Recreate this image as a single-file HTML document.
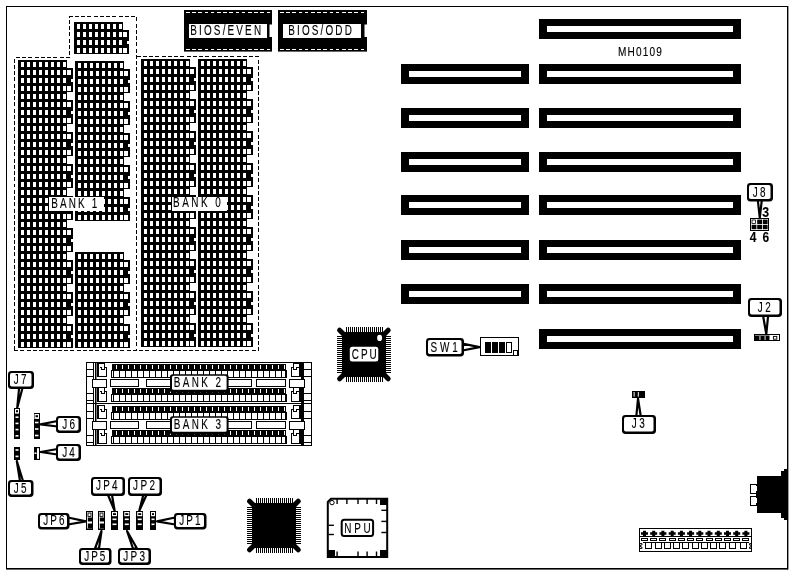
<!DOCTYPE html>
<html><head><meta charset="utf-8"><title>MH0109</title>
<style>
html,body{margin:0;padding:0;background:#fff;}
body{width:793px;height:575px;overflow:hidden;font-family:"Liberation Sans",sans-serif;}
svg{display:block;filter:grayscale(1);}
text{font-family:"Liberation Sans",sans-serif;fill:#000;stroke:#000;stroke-width:0.12px;}
</style></head><body>
<svg width="793" height="575" viewBox="0 0 793 575" shape-rendering="crispEdges">
<defs>
<pattern id="g" x="0" y="0" width="6" height="8" patternUnits="userSpaceOnUse">
<rect x="0" y="0" width="6" height="8" fill="#000"/><rect x="3" y="2" width="3" height="5" fill="#fff"/>
</pattern>
</defs>
<rect x="0" y="0" width="793" height="575" fill="#fff"/>

<rect x="6.5" y="6.5" width="781" height="562" fill="none" stroke="#000" stroke-width="1"/>
<rect x="787" y="6" width="1.4" height="563.5" fill="#000" shape-rendering="auto"/>
<rect x="6" y="568" width="782" height="1.6" fill="#000" shape-rendering="auto"/>
<g fill="none" stroke="#000" stroke-width="1" stroke-dasharray="4 2.25">
<path d="M14.5,350 V57.5 H69.5 V16.5 H136.5 V350.5"/>
<path d="M136.5,56.5 H258.5 V350.5"/>
<path d="M14,350.5 H258.5"/>
</g>
<g transform="translate(74,22)">
<rect x="0" y="0" width="49" height="32" fill="#000"/>
<rect x="0" y="0" width="48" height="32" fill="url(#g)"/>
<rect x="48" y="8" width="7" height="24" fill="#000"/><rect x="49" y="10" width="4" height="5" fill="#fff"/><rect x="49" y="26" width="4" height="5" fill="#fff"/><rect x="53" y="19" width="2" height="3" fill="#fff"/>
</g>
<g transform="translate(18,60)">
<rect x="0" y="0" width="49" height="288" fill="#000"/>
<rect x="0" y="0" width="48" height="288" fill="url(#g)"/>
<rect x="48" y="8" width="7" height="24" fill="#000"/><rect x="49" y="10" width="4" height="5" fill="#fff"/><rect x="49" y="26" width="4" height="5" fill="#fff"/><rect x="53" y="19" width="2" height="3" fill="#fff"/>
<rect x="48" y="40" width="7" height="24" fill="#000"/><rect x="49" y="42" width="4" height="5" fill="#fff"/><rect x="49" y="58" width="4" height="5" fill="#fff"/><rect x="53" y="51" width="2" height="3" fill="#fff"/>
<rect x="48" y="72" width="7" height="24" fill="#000"/><rect x="49" y="74" width="4" height="5" fill="#fff"/><rect x="49" y="90" width="4" height="5" fill="#fff"/><rect x="53" y="83" width="2" height="3" fill="#fff"/>
<rect x="48" y="104" width="7" height="24" fill="#000"/><rect x="49" y="106" width="4" height="5" fill="#fff"/><rect x="49" y="122" width="4" height="5" fill="#fff"/><rect x="53" y="115" width="2" height="3" fill="#fff"/>
<rect x="48" y="136" width="7" height="24" fill="#000"/><rect x="49" y="138" width="4" height="5" fill="#fff"/><rect x="49" y="154" width="4" height="5" fill="#fff"/><rect x="53" y="147" width="2" height="3" fill="#fff"/>
<rect x="48" y="168" width="7" height="24" fill="#000"/><rect x="49" y="170" width="4" height="5" fill="#fff"/><rect x="49" y="186" width="4" height="5" fill="#fff"/><rect x="53" y="179" width="2" height="3" fill="#fff"/>
<rect x="48" y="200" width="7" height="24" fill="#000"/><rect x="49" y="202" width="4" height="5" fill="#fff"/><rect x="49" y="218" width="4" height="5" fill="#fff"/><rect x="53" y="211" width="2" height="3" fill="#fff"/>
<rect x="48" y="232" width="7" height="24" fill="#000"/><rect x="49" y="234" width="4" height="5" fill="#fff"/><rect x="49" y="250" width="4" height="5" fill="#fff"/><rect x="53" y="243" width="2" height="3" fill="#fff"/>
<rect x="48" y="264" width="7" height="24" fill="#000"/><rect x="49" y="266" width="4" height="5" fill="#fff"/><rect x="49" y="282" width="4" height="5" fill="#fff"/><rect x="53" y="275" width="2" height="3" fill="#fff"/>
</g>
<g transform="translate(75,61)">
<rect x="0" y="0" width="49" height="160" fill="#000"/>
<rect x="0" y="0" width="48" height="160" fill="url(#g)"/>
<rect x="48" y="8" width="7" height="24" fill="#000"/><rect x="49" y="10" width="4" height="5" fill="#fff"/><rect x="49" y="26" width="4" height="5" fill="#fff"/><rect x="53" y="19" width="2" height="3" fill="#fff"/>
<rect x="48" y="40" width="7" height="24" fill="#000"/><rect x="49" y="42" width="4" height="5" fill="#fff"/><rect x="49" y="58" width="4" height="5" fill="#fff"/><rect x="53" y="51" width="2" height="3" fill="#fff"/>
<rect x="48" y="72" width="7" height="24" fill="#000"/><rect x="49" y="74" width="4" height="5" fill="#fff"/><rect x="49" y="90" width="4" height="5" fill="#fff"/><rect x="53" y="83" width="2" height="3" fill="#fff"/>
<rect x="48" y="104" width="7" height="24" fill="#000"/><rect x="49" y="106" width="4" height="5" fill="#fff"/><rect x="49" y="122" width="4" height="5" fill="#fff"/><rect x="53" y="115" width="2" height="3" fill="#fff"/>
<rect x="48" y="136" width="7" height="24" fill="#000"/><rect x="49" y="138" width="4" height="5" fill="#fff"/><rect x="49" y="154" width="4" height="5" fill="#fff"/><rect x="53" y="147" width="2" height="3" fill="#fff"/>
</g>
<g transform="translate(75,252)">
<rect x="0" y="0" width="49" height="96" fill="#000"/>
<rect x="0" y="0" width="48" height="96" fill="url(#g)"/>
<rect x="48" y="8" width="7" height="24" fill="#000"/><rect x="49" y="10" width="4" height="5" fill="#fff"/><rect x="49" y="26" width="4" height="5" fill="#fff"/><rect x="53" y="19" width="2" height="3" fill="#fff"/>
<rect x="48" y="40" width="7" height="24" fill="#000"/><rect x="49" y="42" width="4" height="5" fill="#fff"/><rect x="49" y="58" width="4" height="5" fill="#fff"/><rect x="53" y="51" width="2" height="3" fill="#fff"/>
<rect x="48" y="72" width="7" height="24" fill="#000"/><rect x="49" y="74" width="4" height="5" fill="#fff"/><rect x="49" y="90" width="4" height="5" fill="#fff"/><rect x="53" y="83" width="2" height="3" fill="#fff"/>
</g>
<g transform="translate(141,59)">
<rect x="0" y="0" width="49" height="288" fill="#000"/>
<rect x="0" y="0" width="48" height="288" fill="url(#g)"/>
<rect x="48" y="8" width="7" height="24" fill="#000"/><rect x="49" y="10" width="4" height="5" fill="#fff"/><rect x="49" y="26" width="4" height="5" fill="#fff"/><rect x="53" y="19" width="2" height="3" fill="#fff"/>
<rect x="48" y="40" width="7" height="24" fill="#000"/><rect x="49" y="42" width="4" height="5" fill="#fff"/><rect x="49" y="58" width="4" height="5" fill="#fff"/><rect x="53" y="51" width="2" height="3" fill="#fff"/>
<rect x="48" y="72" width="7" height="24" fill="#000"/><rect x="49" y="74" width="4" height="5" fill="#fff"/><rect x="49" y="90" width="4" height="5" fill="#fff"/><rect x="53" y="83" width="2" height="3" fill="#fff"/>
<rect x="48" y="104" width="7" height="24" fill="#000"/><rect x="49" y="106" width="4" height="5" fill="#fff"/><rect x="49" y="122" width="4" height="5" fill="#fff"/><rect x="53" y="115" width="2" height="3" fill="#fff"/>
<rect x="48" y="136" width="7" height="24" fill="#000"/><rect x="49" y="138" width="4" height="5" fill="#fff"/><rect x="49" y="154" width="4" height="5" fill="#fff"/><rect x="53" y="147" width="2" height="3" fill="#fff"/>
<rect x="48" y="168" width="7" height="24" fill="#000"/><rect x="49" y="170" width="4" height="5" fill="#fff"/><rect x="49" y="186" width="4" height="5" fill="#fff"/><rect x="53" y="179" width="2" height="3" fill="#fff"/>
<rect x="48" y="200" width="7" height="24" fill="#000"/><rect x="49" y="202" width="4" height="5" fill="#fff"/><rect x="49" y="218" width="4" height="5" fill="#fff"/><rect x="53" y="211" width="2" height="3" fill="#fff"/>
<rect x="48" y="232" width="7" height="24" fill="#000"/><rect x="49" y="234" width="4" height="5" fill="#fff"/><rect x="49" y="250" width="4" height="5" fill="#fff"/><rect x="53" y="243" width="2" height="3" fill="#fff"/>
<rect x="48" y="264" width="7" height="24" fill="#000"/><rect x="49" y="266" width="4" height="5" fill="#fff"/><rect x="49" y="282" width="4" height="5" fill="#fff"/><rect x="53" y="275" width="2" height="3" fill="#fff"/>
</g>
<g transform="translate(198,59)">
<rect x="0" y="0" width="49" height="288" fill="#000"/>
<rect x="0" y="0" width="48" height="288" fill="url(#g)"/>
<rect x="48" y="8" width="7" height="24" fill="#000"/><rect x="49" y="10" width="4" height="5" fill="#fff"/><rect x="49" y="26" width="4" height="5" fill="#fff"/><rect x="53" y="19" width="2" height="3" fill="#fff"/>
<rect x="48" y="40" width="7" height="24" fill="#000"/><rect x="49" y="42" width="4" height="5" fill="#fff"/><rect x="49" y="58" width="4" height="5" fill="#fff"/><rect x="53" y="51" width="2" height="3" fill="#fff"/>
<rect x="48" y="72" width="7" height="24" fill="#000"/><rect x="49" y="74" width="4" height="5" fill="#fff"/><rect x="49" y="90" width="4" height="5" fill="#fff"/><rect x="53" y="83" width="2" height="3" fill="#fff"/>
<rect x="48" y="104" width="7" height="24" fill="#000"/><rect x="49" y="106" width="4" height="5" fill="#fff"/><rect x="49" y="122" width="4" height="5" fill="#fff"/><rect x="53" y="115" width="2" height="3" fill="#fff"/>
<rect x="48" y="136" width="7" height="24" fill="#000"/><rect x="49" y="138" width="4" height="5" fill="#fff"/><rect x="49" y="154" width="4" height="5" fill="#fff"/><rect x="53" y="147" width="2" height="3" fill="#fff"/>
<rect x="48" y="168" width="7" height="24" fill="#000"/><rect x="49" y="170" width="4" height="5" fill="#fff"/><rect x="49" y="186" width="4" height="5" fill="#fff"/><rect x="53" y="179" width="2" height="3" fill="#fff"/>
<rect x="48" y="200" width="7" height="24" fill="#000"/><rect x="49" y="202" width="4" height="5" fill="#fff"/><rect x="49" y="218" width="4" height="5" fill="#fff"/><rect x="53" y="211" width="2" height="3" fill="#fff"/>
<rect x="48" y="232" width="7" height="24" fill="#000"/><rect x="49" y="234" width="4" height="5" fill="#fff"/><rect x="49" y="250" width="4" height="5" fill="#fff"/><rect x="53" y="243" width="2" height="3" fill="#fff"/>
<rect x="48" y="264" width="7" height="24" fill="#000"/><rect x="49" y="266" width="4" height="5" fill="#fff"/><rect x="49" y="282" width="4" height="5" fill="#fff"/><rect x="53" y="275" width="2" height="3" fill="#fff"/>
</g>
<rect x="49" y="197" width="55" height="14" fill="#fff" />
<text transform="translate(51.31,207.7) scale(0.72,1)" font-size="13.8" letter-spacing="2.96" >BANK 1</text>
<rect x="172" y="197" width="55" height="14" fill="#fff" />
<text transform="translate(173.11,207.2) scale(0.72,1)" font-size="13.8" letter-spacing="3.46" >BANK 0</text>
<rect x="184" y="10" width="88" height="41.6" fill="#000" shape-rendering="auto"/>
<path d="M186,12.5 H270 M186,49.5 H270" stroke="#fff" stroke-width="1" stroke-dasharray="3.6 2.6" fill="none"/>
<rect x="189" y="24" width="78" height="14" fill="#fff" />
<rect x="269.5" y="24.5" width="2.5" height="12.5" fill="#fff" shape-rendering="auto"/>
<text transform="translate(190.31,34.9) scale(0.72,1)" font-size="13.8" letter-spacing="2.99" >BIOS/EVEN</text>
<rect x="278" y="10" width="89" height="41.6" fill="#000" shape-rendering="auto"/>
<path d="M280,12.5 H365 M280,49.5 H365" stroke="#fff" stroke-width="1" stroke-dasharray="3.6 2.6" fill="none"/>
<rect x="283" y="24" width="78" height="14" fill="#fff" />
<rect x="364.5" y="24.5" width="2.5" height="12.5" fill="#fff" shape-rendering="auto"/>
<text transform="translate(288.21,34.9) scale(0.72,1)" font-size="13.8" letter-spacing="2.99" >BIOS/ODD</text>
<rect x="401" y="64" width="128" height="20" fill="#000" />
<rect x="409" y="71" width="112" height="6" fill="#fff" />
<rect x="401" y="108" width="128" height="20" fill="#000" />
<rect x="409" y="115" width="112" height="6" fill="#fff" />
<rect x="401" y="152" width="128" height="20" fill="#000" />
<rect x="409" y="159" width="112" height="6" fill="#fff" />
<rect x="401" y="195" width="128" height="20" fill="#000" />
<rect x="409" y="202" width="112" height="6" fill="#fff" />
<rect x="401" y="240" width="128" height="20" fill="#000" />
<rect x="409" y="247" width="112" height="6" fill="#fff" />
<rect x="401" y="284" width="128" height="20" fill="#000" />
<rect x="409" y="291" width="112" height="6" fill="#fff" />
<rect x="539" y="19" width="202" height="20" fill="#000" />
<rect x="547" y="26" width="186" height="6" fill="#fff" />
<rect x="539" y="64" width="202" height="20" fill="#000" />
<rect x="547" y="71" width="186" height="6" fill="#fff" />
<rect x="539" y="108" width="202" height="20" fill="#000" />
<rect x="547" y="115" width="186" height="6" fill="#fff" />
<rect x="539" y="152" width="202" height="20" fill="#000" />
<rect x="547" y="159" width="186" height="6" fill="#fff" />
<rect x="539" y="195" width="202" height="20" fill="#000" />
<rect x="547" y="202" width="186" height="6" fill="#fff" />
<rect x="539" y="240" width="202" height="20" fill="#000" />
<rect x="547" y="247" width="186" height="6" fill="#fff" />
<rect x="539" y="284" width="202" height="20" fill="#000" />
<rect x="547" y="291" width="186" height="6" fill="#fff" />
<rect x="539" y="329" width="202" height="20" fill="#000" />
<rect x="547" y="336" width="186" height="6" fill="#fff" />
<text transform="translate(617.89,55.9) scale(0.8,1)" font-size="12.6" letter-spacing="1.49" >MH0109</text>
<rect x="86.5" y="362.5" width="225" height="83" fill="#fff" stroke="#000"/>
<rect x="86" y="403" width="226" height="1" fill="#000" />
<rect x="86" y="369" width="7" height="1" fill="#000" />
<rect x="304" y="369" width="8" height="1" fill="#000" />
<rect x="86" y="376" width="7" height="1" fill="#000" />
<rect x="304" y="376" width="8" height="1" fill="#000" />
<rect x="86" y="393" width="7" height="1" fill="#000" />
<rect x="304" y="393" width="8" height="1" fill="#000" />
<rect x="86" y="400" width="7" height="1" fill="#000" />
<rect x="304" y="400" width="8" height="1" fill="#000" />
<rect x="93" y="362" width="1" height="42" fill="#000" />
<rect x="95" y="362" width="1.5" height="42" fill="#000" shape-rendering="auto"/>
<rect x="301" y="362" width="3" height="42" fill="#000" />
<path d="M98,363.5 H104.5 V367.5 H106.5 V376.5 H98 Z M99.5,367.5 H101.5 V369.5 H104.5 V367.5" fill="#fff" stroke="#000" stroke-width="1"/>
<rect x="97" y="363" width="2" height="14" fill="#000" />
<path d="M98,387.5 H104.5 V391.5 H106.5 V401.5 H98 Z M99.5,391.5 H101.5 V393.5 H104.5 V391.5" fill="#fff" stroke="#000" stroke-width="1"/>
<rect x="97" y="387" width="2" height="15" fill="#000" />
<path d="M300,363.5 H293.5 V367.5 H291.5 V376.5 H300 Z M298.5,367.5 H296.5 V369.5 H293.5 V367.5" fill="#fff" stroke="#000" stroke-width="1"/>
<path d="M300,387.5 H293.5 V391.5 H291.5 V401.5 H300 Z M298.5,391.5 H296.5 V393.5 H293.5 V391.5" fill="#fff" stroke="#000" stroke-width="1"/>
<rect x="299" y="363" width="2" height="14" fill="#000" />
<rect x="299" y="387" width="2" height="15" fill="#000" />
<rect x="92.5" y="379.5" width="14" height="8" fill="#fff" stroke="#000"/>
<rect x="289.5" y="379.5" width="15" height="8" fill="#fff" stroke="#000"/>
<rect x="112" y="364" width="174" height="7" fill="#000" />
<rect x="111" y="370" width="176" height="8" fill="#000" />
<rect x="116" y="365" width="1" height="4" fill="#fff" />
<rect x="114" y="371" width="5" height="6" fill="#fff" />
<rect x="122" y="365" width="1" height="4" fill="#fff" />
<rect x="120" y="371" width="5" height="6" fill="#fff" />
<rect x="128" y="365" width="1" height="4" fill="#fff" />
<rect x="126" y="371" width="5" height="6" fill="#fff" />
<rect x="134" y="365" width="1" height="4" fill="#fff" />
<rect x="132" y="371" width="5" height="6" fill="#fff" />
<rect x="140" y="365" width="1" height="4" fill="#fff" />
<rect x="138" y="371" width="5" height="6" fill="#fff" />
<rect x="146" y="365" width="1" height="4" fill="#fff" />
<rect x="144" y="371" width="5" height="6" fill="#fff" />
<rect x="152" y="365" width="1" height="4" fill="#fff" />
<rect x="150" y="371" width="5" height="6" fill="#fff" />
<rect x="158" y="365" width="1" height="4" fill="#fff" />
<rect x="156" y="371" width="5" height="6" fill="#fff" />
<rect x="164" y="365" width="1" height="4" fill="#fff" />
<rect x="162" y="371" width="5" height="6" fill="#fff" />
<rect x="170" y="365" width="1" height="4" fill="#fff" />
<rect x="168" y="371" width="5" height="6" fill="#fff" />
<rect x="176" y="365" width="1" height="4" fill="#fff" />
<rect x="174" y="371" width="5" height="6" fill="#fff" />
<rect x="182" y="365" width="1" height="4" fill="#fff" />
<rect x="180" y="371" width="5" height="6" fill="#fff" />
<rect x="188" y="365" width="1" height="4" fill="#fff" />
<rect x="186" y="371" width="5" height="6" fill="#fff" />
<rect x="194" y="365" width="1" height="4" fill="#fff" />
<rect x="192" y="371" width="5" height="6" fill="#fff" />
<rect x="200" y="365" width="1" height="4" fill="#fff" />
<rect x="198" y="371" width="5" height="6" fill="#fff" />
<rect x="206" y="365" width="1" height="4" fill="#fff" />
<rect x="204" y="371" width="5" height="6" fill="#fff" />
<rect x="212" y="365" width="1" height="4" fill="#fff" />
<rect x="210" y="371" width="5" height="6" fill="#fff" />
<rect x="218" y="365" width="1" height="4" fill="#fff" />
<rect x="216" y="371" width="5" height="6" fill="#fff" />
<rect x="224" y="365" width="1" height="4" fill="#fff" />
<rect x="222" y="371" width="5" height="6" fill="#fff" />
<rect x="230" y="365" width="1" height="4" fill="#fff" />
<rect x="228" y="371" width="5" height="6" fill="#fff" />
<rect x="236" y="365" width="1" height="4" fill="#fff" />
<rect x="234" y="371" width="5" height="6" fill="#fff" />
<rect x="242" y="365" width="1" height="4" fill="#fff" />
<rect x="240" y="371" width="5" height="6" fill="#fff" />
<rect x="248" y="365" width="1" height="4" fill="#fff" />
<rect x="246" y="371" width="5" height="6" fill="#fff" />
<rect x="254" y="365" width="1" height="4" fill="#fff" />
<rect x="252" y="371" width="5" height="6" fill="#fff" />
<rect x="260" y="365" width="1" height="4" fill="#fff" />
<rect x="258" y="371" width="5" height="6" fill="#fff" />
<rect x="266" y="365" width="1" height="4" fill="#fff" />
<rect x="264" y="371" width="5" height="6" fill="#fff" />
<rect x="272" y="365" width="1" height="4" fill="#fff" />
<rect x="270" y="371" width="5" height="6" fill="#fff" />
<rect x="278" y="365" width="1" height="4" fill="#fff" />
<rect x="276" y="371" width="5" height="6" fill="#fff" />
<rect x="284" y="365" width="1" height="4" fill="#fff" />
<rect x="112" y="371" width="1" height="6" fill="#fff" />
<rect x="282" y="371" width="3" height="6" fill="#fff" />
<rect x="286" y="364" width="1" height="6" fill="#fff" />
<rect x="112" y="388" width="174" height="7" fill="#000" />
<rect x="111" y="394" width="176" height="8" fill="#000" />
<rect x="116" y="389" width="1" height="4" fill="#fff" />
<rect x="114" y="395" width="5" height="6" fill="#fff" />
<rect x="122" y="389" width="1" height="4" fill="#fff" />
<rect x="120" y="395" width="5" height="6" fill="#fff" />
<rect x="128" y="389" width="1" height="4" fill="#fff" />
<rect x="126" y="395" width="5" height="6" fill="#fff" />
<rect x="134" y="389" width="1" height="4" fill="#fff" />
<rect x="132" y="395" width="5" height="6" fill="#fff" />
<rect x="140" y="389" width="1" height="4" fill="#fff" />
<rect x="138" y="395" width="5" height="6" fill="#fff" />
<rect x="146" y="389" width="1" height="4" fill="#fff" />
<rect x="144" y="395" width="5" height="6" fill="#fff" />
<rect x="152" y="389" width="1" height="4" fill="#fff" />
<rect x="150" y="395" width="5" height="6" fill="#fff" />
<rect x="158" y="389" width="1" height="4" fill="#fff" />
<rect x="156" y="395" width="5" height="6" fill="#fff" />
<rect x="164" y="389" width="1" height="4" fill="#fff" />
<rect x="162" y="395" width="5" height="6" fill="#fff" />
<rect x="170" y="389" width="1" height="4" fill="#fff" />
<rect x="168" y="395" width="5" height="6" fill="#fff" />
<rect x="176" y="389" width="1" height="4" fill="#fff" />
<rect x="174" y="395" width="5" height="6" fill="#fff" />
<rect x="182" y="389" width="1" height="4" fill="#fff" />
<rect x="180" y="395" width="5" height="6" fill="#fff" />
<rect x="188" y="389" width="1" height="4" fill="#fff" />
<rect x="186" y="395" width="5" height="6" fill="#fff" />
<rect x="194" y="389" width="1" height="4" fill="#fff" />
<rect x="192" y="395" width="5" height="6" fill="#fff" />
<rect x="200" y="389" width="1" height="4" fill="#fff" />
<rect x="198" y="395" width="5" height="6" fill="#fff" />
<rect x="206" y="389" width="1" height="4" fill="#fff" />
<rect x="204" y="395" width="5" height="6" fill="#fff" />
<rect x="212" y="389" width="1" height="4" fill="#fff" />
<rect x="210" y="395" width="5" height="6" fill="#fff" />
<rect x="218" y="389" width="1" height="4" fill="#fff" />
<rect x="216" y="395" width="5" height="6" fill="#fff" />
<rect x="224" y="389" width="1" height="4" fill="#fff" />
<rect x="222" y="395" width="5" height="6" fill="#fff" />
<rect x="230" y="389" width="1" height="4" fill="#fff" />
<rect x="228" y="395" width="5" height="6" fill="#fff" />
<rect x="236" y="389" width="1" height="4" fill="#fff" />
<rect x="234" y="395" width="5" height="6" fill="#fff" />
<rect x="242" y="389" width="1" height="4" fill="#fff" />
<rect x="240" y="395" width="5" height="6" fill="#fff" />
<rect x="248" y="389" width="1" height="4" fill="#fff" />
<rect x="246" y="395" width="5" height="6" fill="#fff" />
<rect x="254" y="389" width="1" height="4" fill="#fff" />
<rect x="252" y="395" width="5" height="6" fill="#fff" />
<rect x="260" y="389" width="1" height="4" fill="#fff" />
<rect x="258" y="395" width="5" height="6" fill="#fff" />
<rect x="266" y="389" width="1" height="4" fill="#fff" />
<rect x="264" y="395" width="5" height="6" fill="#fff" />
<rect x="272" y="389" width="1" height="4" fill="#fff" />
<rect x="270" y="395" width="5" height="6" fill="#fff" />
<rect x="278" y="389" width="1" height="4" fill="#fff" />
<rect x="276" y="395" width="5" height="6" fill="#fff" />
<rect x="284" y="389" width="1" height="4" fill="#fff" />
<rect x="112" y="395" width="1" height="6" fill="#fff" />
<rect x="282" y="395" width="3" height="6" fill="#fff" />
<rect x="286" y="388" width="1" height="6" fill="#fff" />
<rect x="110.5" y="379.5" width="28" height="7" rx="1" fill="#fff" stroke="#000"/>
<rect x="146.5" y="379.5" width="52" height="7" rx="1" fill="#fff" stroke="#000"/>
<rect x="200.5" y="379.5" width="51" height="7" rx="1" fill="#fff" stroke="#000"/>
<rect x="256.5" y="379.5" width="29" height="7" rx="1" fill="#fff" stroke="#000"/>
<rect x="141" y="378" width="3" height="2" fill="#fff" />
<rect x="253" y="378" width="1" height="2" fill="#fff" />
<rect x="86" y="411" width="7" height="1" fill="#000" />
<rect x="304" y="411" width="8" height="1" fill="#000" />
<rect x="86" y="418" width="7" height="1" fill="#000" />
<rect x="304" y="418" width="8" height="1" fill="#000" />
<rect x="86" y="435" width="7" height="1" fill="#000" />
<rect x="304" y="435" width="8" height="1" fill="#000" />
<rect x="86" y="442" width="7" height="1" fill="#000" />
<rect x="304" y="442" width="8" height="1" fill="#000" />
<rect x="93" y="404" width="1" height="42" fill="#000" />
<rect x="95" y="404" width="1.5" height="42" fill="#000" shape-rendering="auto"/>
<rect x="301" y="404" width="3" height="42" fill="#000" />
<path d="M98,405.5 H104.5 V409.5 H106.5 V418.5 H98 Z M99.5,409.5 H101.5 V411.5 H104.5 V409.5" fill="#fff" stroke="#000" stroke-width="1"/>
<rect x="97" y="405" width="2" height="14" fill="#000" />
<path d="M98,429.5 H104.5 V433.5 H106.5 V443.5 H98 Z M99.5,433.5 H101.5 V435.5 H104.5 V433.5" fill="#fff" stroke="#000" stroke-width="1"/>
<rect x="97" y="429" width="2" height="15" fill="#000" />
<path d="M300,405.5 H293.5 V409.5 H291.5 V418.5 H300 Z M298.5,409.5 H296.5 V411.5 H293.5 V409.5" fill="#fff" stroke="#000" stroke-width="1"/>
<path d="M300,429.5 H293.5 V433.5 H291.5 V443.5 H300 Z M298.5,433.5 H296.5 V435.5 H293.5 V433.5" fill="#fff" stroke="#000" stroke-width="1"/>
<rect x="299" y="405" width="2" height="14" fill="#000" />
<rect x="299" y="429" width="2" height="15" fill="#000" />
<rect x="92.5" y="421.5" width="14" height="8" fill="#fff" stroke="#000"/>
<rect x="289.5" y="421.5" width="15" height="8" fill="#fff" stroke="#000"/>
<rect x="112" y="406" width="174" height="7" fill="#000" />
<rect x="111" y="412" width="176" height="8" fill="#000" />
<rect x="116" y="407" width="1" height="4" fill="#fff" />
<rect x="114" y="413" width="5" height="6" fill="#fff" />
<rect x="122" y="407" width="1" height="4" fill="#fff" />
<rect x="120" y="413" width="5" height="6" fill="#fff" />
<rect x="128" y="407" width="1" height="4" fill="#fff" />
<rect x="126" y="413" width="5" height="6" fill="#fff" />
<rect x="134" y="407" width="1" height="4" fill="#fff" />
<rect x="132" y="413" width="5" height="6" fill="#fff" />
<rect x="140" y="407" width="1" height="4" fill="#fff" />
<rect x="138" y="413" width="5" height="6" fill="#fff" />
<rect x="146" y="407" width="1" height="4" fill="#fff" />
<rect x="144" y="413" width="5" height="6" fill="#fff" />
<rect x="152" y="407" width="1" height="4" fill="#fff" />
<rect x="150" y="413" width="5" height="6" fill="#fff" />
<rect x="158" y="407" width="1" height="4" fill="#fff" />
<rect x="156" y="413" width="5" height="6" fill="#fff" />
<rect x="164" y="407" width="1" height="4" fill="#fff" />
<rect x="162" y="413" width="5" height="6" fill="#fff" />
<rect x="170" y="407" width="1" height="4" fill="#fff" />
<rect x="168" y="413" width="5" height="6" fill="#fff" />
<rect x="176" y="407" width="1" height="4" fill="#fff" />
<rect x="174" y="413" width="5" height="6" fill="#fff" />
<rect x="182" y="407" width="1" height="4" fill="#fff" />
<rect x="180" y="413" width="5" height="6" fill="#fff" />
<rect x="188" y="407" width="1" height="4" fill="#fff" />
<rect x="186" y="413" width="5" height="6" fill="#fff" />
<rect x="194" y="407" width="1" height="4" fill="#fff" />
<rect x="192" y="413" width="5" height="6" fill="#fff" />
<rect x="200" y="407" width="1" height="4" fill="#fff" />
<rect x="198" y="413" width="5" height="6" fill="#fff" />
<rect x="206" y="407" width="1" height="4" fill="#fff" />
<rect x="204" y="413" width="5" height="6" fill="#fff" />
<rect x="212" y="407" width="1" height="4" fill="#fff" />
<rect x="210" y="413" width="5" height="6" fill="#fff" />
<rect x="218" y="407" width="1" height="4" fill="#fff" />
<rect x="216" y="413" width="5" height="6" fill="#fff" />
<rect x="224" y="407" width="1" height="4" fill="#fff" />
<rect x="222" y="413" width="5" height="6" fill="#fff" />
<rect x="230" y="407" width="1" height="4" fill="#fff" />
<rect x="228" y="413" width="5" height="6" fill="#fff" />
<rect x="236" y="407" width="1" height="4" fill="#fff" />
<rect x="234" y="413" width="5" height="6" fill="#fff" />
<rect x="242" y="407" width="1" height="4" fill="#fff" />
<rect x="240" y="413" width="5" height="6" fill="#fff" />
<rect x="248" y="407" width="1" height="4" fill="#fff" />
<rect x="246" y="413" width="5" height="6" fill="#fff" />
<rect x="254" y="407" width="1" height="4" fill="#fff" />
<rect x="252" y="413" width="5" height="6" fill="#fff" />
<rect x="260" y="407" width="1" height="4" fill="#fff" />
<rect x="258" y="413" width="5" height="6" fill="#fff" />
<rect x="266" y="407" width="1" height="4" fill="#fff" />
<rect x="264" y="413" width="5" height="6" fill="#fff" />
<rect x="272" y="407" width="1" height="4" fill="#fff" />
<rect x="270" y="413" width="5" height="6" fill="#fff" />
<rect x="278" y="407" width="1" height="4" fill="#fff" />
<rect x="276" y="413" width="5" height="6" fill="#fff" />
<rect x="284" y="407" width="1" height="4" fill="#fff" />
<rect x="112" y="413" width="1" height="6" fill="#fff" />
<rect x="282" y="413" width="3" height="6" fill="#fff" />
<rect x="286" y="406" width="1" height="6" fill="#fff" />
<rect x="112" y="430" width="174" height="7" fill="#000" />
<rect x="111" y="436" width="176" height="8" fill="#000" />
<rect x="116" y="431" width="1" height="4" fill="#fff" />
<rect x="114" y="437" width="5" height="6" fill="#fff" />
<rect x="122" y="431" width="1" height="4" fill="#fff" />
<rect x="120" y="437" width="5" height="6" fill="#fff" />
<rect x="128" y="431" width="1" height="4" fill="#fff" />
<rect x="126" y="437" width="5" height="6" fill="#fff" />
<rect x="134" y="431" width="1" height="4" fill="#fff" />
<rect x="132" y="437" width="5" height="6" fill="#fff" />
<rect x="140" y="431" width="1" height="4" fill="#fff" />
<rect x="138" y="437" width="5" height="6" fill="#fff" />
<rect x="146" y="431" width="1" height="4" fill="#fff" />
<rect x="144" y="437" width="5" height="6" fill="#fff" />
<rect x="152" y="431" width="1" height="4" fill="#fff" />
<rect x="150" y="437" width="5" height="6" fill="#fff" />
<rect x="158" y="431" width="1" height="4" fill="#fff" />
<rect x="156" y="437" width="5" height="6" fill="#fff" />
<rect x="164" y="431" width="1" height="4" fill="#fff" />
<rect x="162" y="437" width="5" height="6" fill="#fff" />
<rect x="170" y="431" width="1" height="4" fill="#fff" />
<rect x="168" y="437" width="5" height="6" fill="#fff" />
<rect x="176" y="431" width="1" height="4" fill="#fff" />
<rect x="174" y="437" width="5" height="6" fill="#fff" />
<rect x="182" y="431" width="1" height="4" fill="#fff" />
<rect x="180" y="437" width="5" height="6" fill="#fff" />
<rect x="188" y="431" width="1" height="4" fill="#fff" />
<rect x="186" y="437" width="5" height="6" fill="#fff" />
<rect x="194" y="431" width="1" height="4" fill="#fff" />
<rect x="192" y="437" width="5" height="6" fill="#fff" />
<rect x="200" y="431" width="1" height="4" fill="#fff" />
<rect x="198" y="437" width="5" height="6" fill="#fff" />
<rect x="206" y="431" width="1" height="4" fill="#fff" />
<rect x="204" y="437" width="5" height="6" fill="#fff" />
<rect x="212" y="431" width="1" height="4" fill="#fff" />
<rect x="210" y="437" width="5" height="6" fill="#fff" />
<rect x="218" y="431" width="1" height="4" fill="#fff" />
<rect x="216" y="437" width="5" height="6" fill="#fff" />
<rect x="224" y="431" width="1" height="4" fill="#fff" />
<rect x="222" y="437" width="5" height="6" fill="#fff" />
<rect x="230" y="431" width="1" height="4" fill="#fff" />
<rect x="228" y="437" width="5" height="6" fill="#fff" />
<rect x="236" y="431" width="1" height="4" fill="#fff" />
<rect x="234" y="437" width="5" height="6" fill="#fff" />
<rect x="242" y="431" width="1" height="4" fill="#fff" />
<rect x="240" y="437" width="5" height="6" fill="#fff" />
<rect x="248" y="431" width="1" height="4" fill="#fff" />
<rect x="246" y="437" width="5" height="6" fill="#fff" />
<rect x="254" y="431" width="1" height="4" fill="#fff" />
<rect x="252" y="437" width="5" height="6" fill="#fff" />
<rect x="260" y="431" width="1" height="4" fill="#fff" />
<rect x="258" y="437" width="5" height="6" fill="#fff" />
<rect x="266" y="431" width="1" height="4" fill="#fff" />
<rect x="264" y="437" width="5" height="6" fill="#fff" />
<rect x="272" y="431" width="1" height="4" fill="#fff" />
<rect x="270" y="437" width="5" height="6" fill="#fff" />
<rect x="278" y="431" width="1" height="4" fill="#fff" />
<rect x="276" y="437" width="5" height="6" fill="#fff" />
<rect x="284" y="431" width="1" height="4" fill="#fff" />
<rect x="112" y="437" width="1" height="6" fill="#fff" />
<rect x="282" y="437" width="3" height="6" fill="#fff" />
<rect x="286" y="430" width="1" height="6" fill="#fff" />
<rect x="110.5" y="421.5" width="28" height="7" rx="1" fill="#fff" stroke="#000"/>
<rect x="146.5" y="421.5" width="52" height="7" rx="1" fill="#fff" stroke="#000"/>
<rect x="200.5" y="421.5" width="51" height="7" rx="1" fill="#fff" stroke="#000"/>
<rect x="256.5" y="421.5" width="29" height="7" rx="1" fill="#fff" stroke="#000"/>
<rect x="141" y="420" width="3" height="2" fill="#fff" />
<rect x="253" y="420" width="1" height="2" fill="#fff" />
<rect x="170" y="374.3" width="58.6" height="18.4" rx="2.5" fill="#000" shape-rendering="auto"/>
<rect x="172" y="375.8" width="54.6" height="13.9" rx="1.5" fill="#fff" shape-rendering="auto"/>
<text transform="translate(173.71,387) scale(0.72,1)" font-size="13.8" letter-spacing="3.32" >BANK 2</text>
<rect x="170" y="416.3" width="58.6" height="18.4" rx="2.5" fill="#000" shape-rendering="auto"/>
<rect x="172" y="417.8" width="54.6" height="13.9" rx="1.5" fill="#fff" shape-rendering="auto"/>
<text transform="translate(173.71,429) scale(0.72,1)" font-size="13.8" letter-spacing="3.31" >BANK 3</text>
<rect x="14" y="408" width="6" height="31" fill="#000" />
<rect x="15" y="409.0" width="4" height="4.6" fill="#fff" shape-rendering="auto"/>
<rect x="16" y="410.2" width="2" height="2" fill="#000" shape-rendering="auto"/>
<rect x="15.5" y="416.4" width="3" height="1.6" fill="#fff" shape-rendering="auto"/>
<rect x="15.5" y="422.6" width="3" height="1.6" fill="#fff" shape-rendering="auto"/>
<rect x="15.5" y="428.8" width="3" height="1.6" fill="#fff" shape-rendering="auto"/>
<rect x="15.5" y="435.0" width="3" height="1.6" fill="#fff" shape-rendering="auto"/>
<rect x="33.5" y="413" width="6.5" height="26" fill="#000" />
<rect x="34.5" y="414.0" width="4.5" height="4.9" fill="#fff" shape-rendering="auto"/>
<rect x="35.5" y="415.2" width="2.5" height="2" fill="#000" shape-rendering="auto"/>
<rect x="35.0" y="421.7" width="3.5" height="1.6" fill="#fff" shape-rendering="auto"/>
<rect x="35.0" y="428.2" width="3.5" height="1.6" fill="#fff" shape-rendering="auto"/>
<rect x="35.0" y="434.7" width="3.5" height="1.6" fill="#fff" shape-rendering="auto"/>
<rect x="14" y="447" width="6" height="13" fill="#000" />
<rect x="15.5" y="449.2" width="3" height="1.6" fill="#fff" shape-rendering="auto"/>
<rect x="15.5" y="455.6" width="3" height="1.6" fill="#fff" shape-rendering="auto"/>
<rect x="33.5" y="447" width="6.5" height="13" fill="#000" />
<rect x="37" y="448.2" width="2" height="10.6" fill="#fff" shape-rendering="auto"/>
<rect x="34.5" y="452.5" width="2" height="1.5" fill="#fff" shape-rendering="auto"/>
<path d="M19.10,388.00 L17.2,408 L22.50,388.00 Z" fill="#fff" stroke="#000" stroke-width="2.2" stroke-linejoin="round" shape-rendering="auto"/>
<rect x="8" y="371" width="26.0" height="18.0" rx="3.4" fill="#000" shape-rendering="auto"/>
<rect x="10" y="373" width="21.5" height="13.5" rx="1.8" fill="#fff" shape-rendering="auto"/>
<text transform="translate(13.85,383.8) scale(0.72,1)" font-size="13.8" letter-spacing="3.00" >J7</text>
<path d="M57.50,421.00 L40.5,424.3 L57.50,426.50 Z" fill="#fff" stroke="#000" stroke-width="2.2" stroke-linejoin="round" shape-rendering="auto"/>
<rect x="56" y="416" width="25.0" height="17.0" rx="3.4" fill="#000" shape-rendering="auto"/>
<rect x="58" y="418" width="20.5" height="12.5" rx="1.8" fill="#fff" shape-rendering="auto"/>
<text transform="translate(62.35,428.7) scale(0.72,1)" font-size="13.8" letter-spacing="2.94" >J6</text>
<path d="M57.50,449.00 L40.5,452 L57.50,454.50 Z" fill="#fff" stroke="#000" stroke-width="2.2" stroke-linejoin="round" shape-rendering="auto"/>
<rect x="56" y="444" width="25.0" height="17.0" rx="3.4" fill="#000" shape-rendering="auto"/>
<rect x="58" y="446" width="20.5" height="12.5" rx="1.8" fill="#fff" shape-rendering="auto"/>
<text transform="translate(62.35,457) scale(0.72,1)" font-size="13.8" letter-spacing="2.73" >J4</text>
<path d="M20.00,481.00 L16.8,461 L23.00,481.00 Z" fill="#fff" stroke="#000" stroke-width="2.2" stroke-linejoin="round" shape-rendering="auto"/>
<rect x="8" y="480" width="25.5" height="17.0" rx="3.4" fill="#000" shape-rendering="auto"/>
<rect x="10" y="482" width="21.0" height="12.5" rx="1.8" fill="#fff" shape-rendering="auto"/>
<text transform="translate(13.85,493) scale(0.72,1)" font-size="13.8" letter-spacing="2.87" >J5</text>
<rect x="86" y="511" width="7" height="18.5" fill="#000" />
<rect x="87" y="512" width="5" height="16.5" fill="#fff" shape-rendering="auto"/>
<rect x="87.8" y="517.5" width="4.2" height="4" fill="#000" shape-rendering="auto"/>
<rect x="87.8" y="523.5" width="4.2" height="5" fill="#000" shape-rendering="auto"/>
<rect x="88" y="513" width="3" height="3.4" fill="none" stroke="#000" stroke-width="0.9" shape-rendering="auto"/>
<rect x="98" y="511" width="7" height="18.5" fill="#000" />
<rect x="99" y="512" width="5" height="16.5" fill="#fff" shape-rendering="auto"/>
<rect x="99.8" y="517.5" width="4.2" height="4" fill="#000" shape-rendering="auto"/>
<rect x="99.8" y="523.5" width="4.2" height="5" fill="#000" shape-rendering="auto"/>
<rect x="100" y="513" width="3" height="3.4" fill="none" stroke="#000" stroke-width="0.9" shape-rendering="auto"/>
<rect x="111" y="511" width="7" height="18.5" fill="#000" />
<rect x="112" y="512" width="5" height="4.2" fill="#fff" shape-rendering="auto"/>
<rect x="113" y="513.2" width="3" height="1.8" fill="#000" shape-rendering="auto"/>
<rect x="112.5" y="518.5" width="4" height="1.6" fill="#fff" shape-rendering="auto"/>
<rect x="112.5" y="523.5" width="4" height="1.6" fill="#fff" shape-rendering="auto"/>
<rect x="123.3" y="511" width="7" height="18.5" fill="#000" />
<rect x="124.3" y="512" width="5" height="4.2" fill="#fff" shape-rendering="auto"/>
<rect x="125.3" y="513.2" width="3" height="1.8" fill="#000" shape-rendering="auto"/>
<rect x="124.8" y="518.5" width="4" height="1.6" fill="#fff" shape-rendering="auto"/>
<rect x="124.8" y="523.5" width="4" height="1.6" fill="#fff" shape-rendering="auto"/>
<rect x="136.2" y="511" width="7" height="18.5" fill="#000" />
<rect x="137.2" y="512" width="5" height="4.2" fill="#fff" shape-rendering="auto"/>
<rect x="138.2" y="513.2" width="3" height="1.8" fill="#000" shape-rendering="auto"/>
<rect x="137.7" y="518.5" width="4" height="1.6" fill="#fff" shape-rendering="auto"/>
<rect x="137.7" y="523.5" width="4" height="1.6" fill="#fff" shape-rendering="auto"/>
<rect x="150" y="511" width="6" height="18.5" fill="#000" />
<rect x="151" y="512" width="4" height="4.2" fill="#fff" shape-rendering="auto"/>
<rect x="152" y="513.2" width="2" height="1.8" fill="#000" shape-rendering="auto"/>
<rect x="151.5" y="518.5" width="3" height="1.6" fill="#fff" shape-rendering="auto"/>
<rect x="151.5" y="523.5" width="3" height="1.6" fill="#fff" shape-rendering="auto"/>
<path d="M108.00,495.00 L114.7,511 L112.00,495.00 Z" fill="#fff" stroke="#000" stroke-width="2.2" stroke-linejoin="round" shape-rendering="auto"/>
<rect x="91" y="477" width="34.0" height="19.0" rx="3.4" fill="#000" shape-rendering="auto"/>
<rect x="93" y="479" width="29.5" height="14.5" rx="1.8" fill="#fff" shape-rendering="auto"/>
<text transform="translate(95.95,489.7) scale(0.72,1)" font-size="13.8" letter-spacing="3.15" >JP4</text>
<path d="M143.30,495.00 L139.2,511 L146.50,495.00 Z" fill="#fff" stroke="#000" stroke-width="2.2" stroke-linejoin="round" shape-rendering="auto"/>
<rect x="128" y="477" width="34.0" height="19.0" rx="3.4" fill="#000" shape-rendering="auto"/>
<rect x="130" y="479" width="29.5" height="14.5" rx="1.8" fill="#fff" shape-rendering="auto"/>
<text transform="translate(132.95,489.7) scale(0.72,1)" font-size="13.8" letter-spacing="3.50" >JP2</text>
<path d="M68.00,517.50 L86,521.3 L68.00,524.50 Z" fill="#fff" stroke="#000" stroke-width="2.2" stroke-linejoin="round" shape-rendering="auto"/>
<rect x="38" y="513" width="31.5" height="16.5" rx="3.4" fill="#000" shape-rendering="auto"/>
<rect x="40" y="515" width="27.0" height="12.0" rx="1.8" fill="#fff" shape-rendering="auto"/>
<text transform="translate(43.35,525.3) scale(0.72,1)" font-size="13.8" letter-spacing="2.77" >JP6</text>
<path d="M175.00,517.50 L157,521.3 L175.00,524.50 Z" fill="#fff" stroke="#000" stroke-width="2.2" stroke-linejoin="round" shape-rendering="auto"/>
<rect x="174" y="513" width="32.5" height="16.5" rx="3.4" fill="#000" shape-rendering="auto"/>
<rect x="176" y="515" width="28.0" height="12.0" rx="1.8" fill="#fff" shape-rendering="auto"/>
<text transform="translate(179.35,525.3) scale(0.72,1)" font-size="13.8" letter-spacing="2.80" >JP1</text>
<path d="M95.00,548.50 L101.5,531 L99.00,548.50 Z" fill="#fff" stroke="#000" stroke-width="2.2" stroke-linejoin="round" shape-rendering="auto"/>
<rect x="79" y="548" width="32.5" height="17.0" rx="3.4" fill="#000" shape-rendering="auto"/>
<rect x="81" y="550" width="28.0" height="12.5" rx="1.8" fill="#fff" shape-rendering="auto"/>
<text transform="translate(84.35,560.5) scale(0.72,1)" font-size="13.8" letter-spacing="2.73" >JP5</text>
<path d="M133.00,548.50 L127,531 L137.00,548.50 Z" fill="#fff" stroke="#000" stroke-width="2.2" stroke-linejoin="round" shape-rendering="auto"/>
<rect x="118" y="548" width="33.0" height="17.0" rx="3.4" fill="#000" shape-rendering="auto"/>
<rect x="120" y="550" width="28.5" height="12.5" rx="1.8" fill="#fff" shape-rendering="auto"/>
<text transform="translate(123.35,560.5) scale(0.72,1)" font-size="13.8" letter-spacing="3.12" >JP3</text>
<g transform="translate(337,327)">
<rect x="5" y="5" width="44" height="45" fill="#000" />
<rect x="9" y="0" width="1" height="5" fill="#000"/>
<rect x="9" y="50" width="1" height="5" fill="#000"/>
<rect x="11" y="0" width="1" height="5" fill="#000"/>
<rect x="11" y="50" width="1" height="5" fill="#000"/>
<rect x="13" y="0" width="1" height="5" fill="#000"/>
<rect x="13" y="50" width="1" height="5" fill="#000"/>
<rect x="15" y="0" width="1" height="5" fill="#000"/>
<rect x="15" y="50" width="1" height="5" fill="#000"/>
<rect x="17" y="0" width="1" height="5" fill="#000"/>
<rect x="17" y="50" width="1" height="5" fill="#000"/>
<rect x="19" y="0" width="1" height="5" fill="#000"/>
<rect x="19" y="50" width="1" height="5" fill="#000"/>
<rect x="21" y="0" width="1" height="5" fill="#000"/>
<rect x="21" y="50" width="1" height="5" fill="#000"/>
<rect x="23" y="0" width="1" height="5" fill="#000"/>
<rect x="23" y="50" width="1" height="5" fill="#000"/>
<rect x="25" y="0" width="1" height="5" fill="#000"/>
<rect x="25" y="50" width="1" height="5" fill="#000"/>
<rect x="27" y="0" width="1" height="5" fill="#000"/>
<rect x="27" y="50" width="1" height="5" fill="#000"/>
<rect x="29" y="0" width="1" height="5" fill="#000"/>
<rect x="29" y="50" width="1" height="5" fill="#000"/>
<rect x="31" y="0" width="1" height="5" fill="#000"/>
<rect x="31" y="50" width="1" height="5" fill="#000"/>
<rect x="33" y="0" width="1" height="5" fill="#000"/>
<rect x="33" y="50" width="1" height="5" fill="#000"/>
<rect x="35" y="0" width="1" height="5" fill="#000"/>
<rect x="35" y="50" width="1" height="5" fill="#000"/>
<rect x="37" y="0" width="1" height="5" fill="#000"/>
<rect x="37" y="50" width="1" height="5" fill="#000"/>
<rect x="39" y="0" width="1" height="5" fill="#000"/>
<rect x="39" y="50" width="1" height="5" fill="#000"/>
<rect x="41" y="0" width="1" height="5" fill="#000"/>
<rect x="41" y="50" width="1" height="5" fill="#000"/>
<rect x="43" y="0" width="1" height="5" fill="#000"/>
<rect x="43" y="50" width="1" height="5" fill="#000"/>
<rect x="45" y="0" width="1" height="5" fill="#000"/>
<rect x="45" y="50" width="1" height="5" fill="#000"/>
<rect x="0" y="9" width="5" height="1" fill="#000"/>
<rect x="49" y="9" width="5" height="1" fill="#000"/>
<rect x="0" y="11" width="5" height="1" fill="#000"/>
<rect x="49" y="11" width="5" height="1" fill="#000"/>
<rect x="0" y="13" width="5" height="1" fill="#000"/>
<rect x="49" y="13" width="5" height="1" fill="#000"/>
<rect x="0" y="15" width="5" height="1" fill="#000"/>
<rect x="49" y="15" width="5" height="1" fill="#000"/>
<rect x="0" y="17" width="5" height="1" fill="#000"/>
<rect x="49" y="17" width="5" height="1" fill="#000"/>
<rect x="0" y="19" width="5" height="1" fill="#000"/>
<rect x="49" y="19" width="5" height="1" fill="#000"/>
<rect x="0" y="21" width="5" height="1" fill="#000"/>
<rect x="49" y="21" width="5" height="1" fill="#000"/>
<rect x="0" y="23" width="5" height="1" fill="#000"/>
<rect x="49" y="23" width="5" height="1" fill="#000"/>
<rect x="0" y="25" width="5" height="1" fill="#000"/>
<rect x="49" y="25" width="5" height="1" fill="#000"/>
<rect x="0" y="27" width="5" height="1" fill="#000"/>
<rect x="49" y="27" width="5" height="1" fill="#000"/>
<rect x="0" y="29" width="5" height="1" fill="#000"/>
<rect x="49" y="29" width="5" height="1" fill="#000"/>
<rect x="0" y="31" width="5" height="1" fill="#000"/>
<rect x="49" y="31" width="5" height="1" fill="#000"/>
<rect x="0" y="33" width="5" height="1" fill="#000"/>
<rect x="49" y="33" width="5" height="1" fill="#000"/>
<rect x="0" y="35" width="5" height="1" fill="#000"/>
<rect x="49" y="35" width="5" height="1" fill="#000"/>
<rect x="0" y="37" width="5" height="1" fill="#000"/>
<rect x="49" y="37" width="5" height="1" fill="#000"/>
<rect x="0" y="39" width="5" height="1" fill="#000"/>
<rect x="49" y="39" width="5" height="1" fill="#000"/>
<rect x="0" y="41" width="5" height="1" fill="#000"/>
<rect x="49" y="41" width="5" height="1" fill="#000"/>
<rect x="0" y="43" width="5" height="1" fill="#000"/>
<rect x="49" y="43" width="5" height="1" fill="#000"/>
<rect x="0" y="45" width="5" height="1" fill="#000"/>
<rect x="49" y="45" width="5" height="1" fill="#000"/>
<g stroke="#000" stroke-width="5" stroke-linecap="round" shape-rendering="auto">
<path d="M2.6,3.2 L7,7.5 M51.2,3.2 L47,7.5 M2.6,51.8 L7,47.5 M51.2,51.8 L47,47.5"/>
</g></g>
<g transform="translate(247,498)">
<rect x="5" y="5" width="44" height="45" fill="#000" />
<rect x="9" y="0" width="1" height="5" fill="#000"/>
<rect x="9" y="50" width="1" height="5" fill="#000"/>
<rect x="11" y="0" width="1" height="5" fill="#000"/>
<rect x="11" y="50" width="1" height="5" fill="#000"/>
<rect x="13" y="0" width="1" height="5" fill="#000"/>
<rect x="13" y="50" width="1" height="5" fill="#000"/>
<rect x="15" y="0" width="1" height="5" fill="#000"/>
<rect x="15" y="50" width="1" height="5" fill="#000"/>
<rect x="17" y="0" width="1" height="5" fill="#000"/>
<rect x="17" y="50" width="1" height="5" fill="#000"/>
<rect x="19" y="0" width="1" height="5" fill="#000"/>
<rect x="19" y="50" width="1" height="5" fill="#000"/>
<rect x="21" y="0" width="1" height="5" fill="#000"/>
<rect x="21" y="50" width="1" height="5" fill="#000"/>
<rect x="23" y="0" width="1" height="5" fill="#000"/>
<rect x="23" y="50" width="1" height="5" fill="#000"/>
<rect x="25" y="0" width="1" height="5" fill="#000"/>
<rect x="25" y="50" width="1" height="5" fill="#000"/>
<rect x="27" y="0" width="1" height="5" fill="#000"/>
<rect x="27" y="50" width="1" height="5" fill="#000"/>
<rect x="29" y="0" width="1" height="5" fill="#000"/>
<rect x="29" y="50" width="1" height="5" fill="#000"/>
<rect x="31" y="0" width="1" height="5" fill="#000"/>
<rect x="31" y="50" width="1" height="5" fill="#000"/>
<rect x="33" y="0" width="1" height="5" fill="#000"/>
<rect x="33" y="50" width="1" height="5" fill="#000"/>
<rect x="35" y="0" width="1" height="5" fill="#000"/>
<rect x="35" y="50" width="1" height="5" fill="#000"/>
<rect x="37" y="0" width="1" height="5" fill="#000"/>
<rect x="37" y="50" width="1" height="5" fill="#000"/>
<rect x="39" y="0" width="1" height="5" fill="#000"/>
<rect x="39" y="50" width="1" height="5" fill="#000"/>
<rect x="41" y="0" width="1" height="5" fill="#000"/>
<rect x="41" y="50" width="1" height="5" fill="#000"/>
<rect x="43" y="0" width="1" height="5" fill="#000"/>
<rect x="43" y="50" width="1" height="5" fill="#000"/>
<rect x="45" y="0" width="1" height="5" fill="#000"/>
<rect x="45" y="50" width="1" height="5" fill="#000"/>
<rect x="0" y="9" width="5" height="1" fill="#000"/>
<rect x="49" y="9" width="5" height="1" fill="#000"/>
<rect x="0" y="11" width="5" height="1" fill="#000"/>
<rect x="49" y="11" width="5" height="1" fill="#000"/>
<rect x="0" y="13" width="5" height="1" fill="#000"/>
<rect x="49" y="13" width="5" height="1" fill="#000"/>
<rect x="0" y="15" width="5" height="1" fill="#000"/>
<rect x="49" y="15" width="5" height="1" fill="#000"/>
<rect x="0" y="17" width="5" height="1" fill="#000"/>
<rect x="49" y="17" width="5" height="1" fill="#000"/>
<rect x="0" y="19" width="5" height="1" fill="#000"/>
<rect x="49" y="19" width="5" height="1" fill="#000"/>
<rect x="0" y="21" width="5" height="1" fill="#000"/>
<rect x="49" y="21" width="5" height="1" fill="#000"/>
<rect x="0" y="23" width="5" height="1" fill="#000"/>
<rect x="49" y="23" width="5" height="1" fill="#000"/>
<rect x="0" y="25" width="5" height="1" fill="#000"/>
<rect x="49" y="25" width="5" height="1" fill="#000"/>
<rect x="0" y="27" width="5" height="1" fill="#000"/>
<rect x="49" y="27" width="5" height="1" fill="#000"/>
<rect x="0" y="29" width="5" height="1" fill="#000"/>
<rect x="49" y="29" width="5" height="1" fill="#000"/>
<rect x="0" y="31" width="5" height="1" fill="#000"/>
<rect x="49" y="31" width="5" height="1" fill="#000"/>
<rect x="0" y="33" width="5" height="1" fill="#000"/>
<rect x="49" y="33" width="5" height="1" fill="#000"/>
<rect x="0" y="35" width="5" height="1" fill="#000"/>
<rect x="49" y="35" width="5" height="1" fill="#000"/>
<rect x="0" y="37" width="5" height="1" fill="#000"/>
<rect x="49" y="37" width="5" height="1" fill="#000"/>
<rect x="0" y="39" width="5" height="1" fill="#000"/>
<rect x="49" y="39" width="5" height="1" fill="#000"/>
<rect x="0" y="41" width="5" height="1" fill="#000"/>
<rect x="49" y="41" width="5" height="1" fill="#000"/>
<rect x="0" y="43" width="5" height="1" fill="#000"/>
<rect x="49" y="43" width="5" height="1" fill="#000"/>
<rect x="0" y="45" width="5" height="1" fill="#000"/>
<rect x="49" y="45" width="5" height="1" fill="#000"/>
<g stroke="#000" stroke-width="5" stroke-linecap="round" shape-rendering="auto">
<path d="M2.6,3.2 L7,7.5 M51.2,3.2 L47,7.5 M2.6,51.8 L7,47.5 M51.2,51.8 L47,47.5"/>
</g></g>
<ellipse cx="379.6" cy="337.9" rx="2.5" ry="3.1" fill="#fff" shape-rendering="auto"/>
<rect x="349.8" y="346.7" width="28.5" height="14.9" rx="2.5" fill="#fff" shape-rendering="auto"/>
<text transform="translate(351.70,358.7) scale(0.72,1)" font-size="13.8" letter-spacing="2.84" >CPU</text>
<path d="M462.50,343.70 L479.5,347.2 L462.50,350.50 Z" fill="#fff" stroke="#000" stroke-width="2.2" stroke-linejoin="round" shape-rendering="auto"/>
<rect x="426" y="338" width="38.0" height="18.5" rx="3.4" fill="#000" shape-rendering="auto"/>
<rect x="428" y="340" width="33.5" height="14.0" rx="1.8" fill="#fff" shape-rendering="auto"/>
<text transform="translate(430.55,352) scale(0.72,1)" font-size="13.8" letter-spacing="3.97" >SW1</text>
<rect x="480.5" y="337.5" width="38" height="18" fill="#fff" stroke="#000"/>
<rect x="485" y="342" width="6" height="11" fill="#000" />
<rect x="492" y="342" width="6" height="11" fill="#000" />
<rect x="499" y="342" width="6" height="11" fill="#000" />
<rect x="506.5" y="342.5" width="5" height="10" fill="#fff" stroke="#000"/>
<rect x="513.5" y="350.5" width="4" height="5" fill="#fff" stroke="#000"/>
<path d="M331,498.8 H387.2 V557 H327.8 V502 Z" fill="#fff" stroke="#000" stroke-width="2" shape-rendering="auto"/>
<rect x="380" y="498" width="8" height="7" fill="#000" />
<rect x="327" y="550" width="8" height="8" fill="#000" />
<rect x="380" y="550" width="8" height="8" fill="#000" />
<rect x="336.4" y="499" width="1.4" height="5" fill="#000" shape-rendering="auto"/>
<rect x="346.2" y="499" width="1.4" height="5" fill="#000" shape-rendering="auto"/>
<rect x="357.29999999999995" y="499" width="1.4" height="5" fill="#000" shape-rendering="auto"/>
<rect x="366.4" y="499" width="1.4" height="5" fill="#000" shape-rendering="auto"/>
<rect x="375.79999999999995" y="499" width="1.4" height="5" fill="#000" shape-rendering="auto"/>
<rect x="336.4" y="551.5" width="1.4" height="5" fill="#000" shape-rendering="auto"/>
<rect x="357.29999999999995" y="551.5" width="1.4" height="5" fill="#000" shape-rendering="auto"/>
<rect x="366.4" y="551.5" width="1.4" height="5" fill="#000" shape-rendering="auto"/>
<rect x="375.79999999999995" y="551.5" width="1.4" height="5" fill="#000" shape-rendering="auto"/>
<rect x="381.4" y="509.59999999999997" width="5.5" height="1.4" fill="#000" shape-rendering="auto"/>
<rect x="381.4" y="520.6999999999999" width="5.5" height="1.4" fill="#000" shape-rendering="auto"/>
<rect x="381.4" y="531.8" width="5.5" height="1.4" fill="#000" shape-rendering="auto"/>
<rect x="328.5" y="524.6" width="5.4" height="1.4" fill="#000" shape-rendering="auto"/>
<rect x="328.5" y="533.8" width="5.4" height="1.4" fill="#000" shape-rendering="auto"/>
<circle cx="332" cy="502.6" r="2.2" fill="#fff" stroke="#000" stroke-width="1" shape-rendering="auto"/>
<rect x="341.7" y="519.8" width="31.4" height="16.2" rx="2.5" fill="#fff" stroke="#000" stroke-width="2" shape-rendering="auto"/>
<text transform="translate(344.21,532.8) scale(0.72,1)" font-size="13.8" letter-spacing="3.88" >NPU</text>
<path d="M757.80,200.00 L759.8,218 L761.80,200.00 Z" fill="#fff" stroke="#000" stroke-width="2.2" stroke-linejoin="round" shape-rendering="auto"/>
<rect x="747" y="183" width="26.0" height="18.5" rx="3.4" fill="#000" shape-rendering="auto"/>
<rect x="749" y="185" width="21.5" height="14.0" rx="1.8" fill="#fff" shape-rendering="auto"/>
<text transform="translate(752.65,196.6) scale(0.72,1)" font-size="13.8" letter-spacing="3.42" >J8</text>
<rect x="750" y="218" width="19" height="12.6" fill="#000" />
<rect x="751" y="219" width="17" height="10.6" fill="#fff"/>
<rect x="752.0" y="220.0" width="3.6" height="3.4" fill="#fff" stroke="#000" stroke-width="0.8" shape-rendering="auto"/>
<rect x="757.2" y="219.6" width="4.8" height="4.4" fill="#000" shape-rendering="auto"/>
<rect x="762.8" y="219.6" width="4.8" height="4.4" fill="#000" shape-rendering="auto"/>
<rect x="751.6" y="224.8" width="4.8" height="4.4" fill="#000" shape-rendering="auto"/>
<rect x="757.2" y="224.8" width="4.8" height="4.4" fill="#000" shape-rendering="auto"/>
<rect x="762.8" y="224.8" width="4.8" height="4.4" fill="#000" shape-rendering="auto"/>
<text transform="translate(762.29,216.6) scale(0.85,1)" font-size="14.5" letter-spacing="0.00" font-weight="bold" stroke="#000" stroke-width="0.7">3</text>
<text transform="translate(749.82,242.3) scale(0.85,1)" font-size="14" letter-spacing="0.00" font-weight="bold" stroke="#000" stroke-width="0.7">4</text>
<text transform="translate(762.58,242.3) scale(0.85,1)" font-size="14" letter-spacing="0.00" font-weight="bold" stroke="#000" stroke-width="0.7">6</text>
<path d="M763.10,316.00 L766.3,334 L768.10,316.00 Z" fill="#fff" stroke="#000" stroke-width="2.2" stroke-linejoin="round" shape-rendering="auto"/>
<rect x="748" y="298" width="34.0" height="19.0" rx="3.4" fill="#000" shape-rendering="auto"/>
<rect x="750" y="300" width="29.5" height="14.5" rx="1.8" fill="#fff" shape-rendering="auto"/>
<text transform="translate(757.85,311.8) scale(0.72,1)" font-size="13.8" letter-spacing="3.28" >J2</text>
<rect x="754.5" y="334.5" width="25" height="6" fill="#fff" stroke="#000"/>
<rect x="755" y="335.5" width="14.5" height="5" fill="#000" shape-rendering="auto"/>
<rect x="759.5" y="336" width="0.9" height="4" fill="#fff" shape-rendering="auto"/>
<rect x="764.6" y="336" width="0.9" height="4" fill="#fff" shape-rendering="auto"/>
<rect x="773.4" y="336.4" width="3.4" height="2.8" fill="#fff" stroke="#000" stroke-width="0.9" shape-rendering="auto"/>
<rect x="632" y="391" width="13" height="7" fill="#000" />
<rect x="633.6" y="392" width="1" height="4.6" fill="#fff" shape-rendering="auto"/>
<rect x="637.8" y="392" width="1" height="4.6" fill="#fff" shape-rendering="auto"/>
<path d="M636.30,416.50 L638,398.5 L640.80,416.50 Z" fill="#fff" stroke="#000" stroke-width="2.2" stroke-linejoin="round" shape-rendering="auto"/>
<rect x="622" y="415" width="34.0" height="19.0" rx="3.4" fill="#000" shape-rendering="auto"/>
<rect x="624" y="417" width="29.5" height="14.5" rx="1.8" fill="#fff" shape-rendering="auto"/>
<text transform="translate(631.85,427.6) scale(0.72,1)" font-size="13.8" letter-spacing="3.35" >J3</text>
<rect x="757" y="476" width="25" height="37" fill="#000" />
<rect x="781" y="471" width="3.5" height="47" fill="#000" />
<rect x="784" y="469" width="4" height="51" fill="#000" />
<rect x="750.5" y="484.5" width="6" height="8.5" fill="#fff" stroke="#000"/>
<rect x="750.5" y="496.5" width="6" height="8.5" fill="#fff" stroke="#000"/>
<rect x="755" y="486" width="2" height="5" fill="#fff"/><rect x="755" y="498" width="2" height="5" fill="#fff"/>
<rect x="756" y="493" width="1" height="3" fill="#000" />
<rect x="639.5" y="528.5" width="112" height="23" fill="#fff" stroke="#000"/>
<rect x="640" y="536" width="112" height="1" fill="#000" />
<rect x="643" y="542" width="106" height="1" fill="#000" />
<path d="M641.0,532.2 h2 v-1.4 h3 v1.4 h2 v2.6 h-2 v1.3 h-3 v-1.3 h-2 z" fill="#000" shape-rendering="auto"/>
<rect x="641.5" y="538.5" width="6" height="2" fill="#fff" stroke="#000" stroke-width="1"/>
<path d="M650.2,532.2 h2 v-1.4 h3 v1.4 h2 v2.6 h-2 v1.3 h-3 v-1.3 h-2 z" fill="#000" shape-rendering="auto"/>
<rect x="650.5" y="538.5" width="6" height="2" fill="#fff" stroke="#000" stroke-width="1"/>
<path d="M659.4,532.2 h2 v-1.4 h3 v1.4 h2 v2.6 h-2 v1.3 h-3 v-1.3 h-2 z" fill="#000" shape-rendering="auto"/>
<rect x="659.5" y="538.5" width="6" height="2" fill="#fff" stroke="#000" stroke-width="1"/>
<path d="M668.7,532.2 h2 v-1.4 h3 v1.4 h2 v2.6 h-2 v1.3 h-3 v-1.3 h-2 z" fill="#000" shape-rendering="auto"/>
<rect x="669.5" y="538.5" width="6" height="2" fill="#fff" stroke="#000" stroke-width="1"/>
<path d="M677.9,532.2 h2 v-1.4 h3 v1.4 h2 v2.6 h-2 v1.3 h-3 v-1.3 h-2 z" fill="#000" shape-rendering="auto"/>
<rect x="678.5" y="538.5" width="6" height="2" fill="#fff" stroke="#000" stroke-width="1"/>
<path d="M687.1,532.2 h2 v-1.4 h3 v1.4 h2 v2.6 h-2 v1.3 h-3 v-1.3 h-2 z" fill="#000" shape-rendering="auto"/>
<rect x="687.5" y="538.5" width="6" height="2" fill="#fff" stroke="#000" stroke-width="1"/>
<path d="M696.3,532.2 h2 v-1.4 h3 v1.4 h2 v2.6 h-2 v1.3 h-3 v-1.3 h-2 z" fill="#000" shape-rendering="auto"/>
<rect x="696.5" y="538.5" width="6" height="2" fill="#fff" stroke="#000" stroke-width="1"/>
<path d="M705.5,532.2 h2 v-1.4 h3 v1.4 h2 v2.6 h-2 v1.3 h-3 v-1.3 h-2 z" fill="#000" shape-rendering="auto"/>
<rect x="706.5" y="538.5" width="6" height="2" fill="#fff" stroke="#000" stroke-width="1"/>
<path d="M714.8,532.2 h2 v-1.4 h3 v1.4 h2 v2.6 h-2 v1.3 h-3 v-1.3 h-2 z" fill="#000" shape-rendering="auto"/>
<rect x="715.5" y="538.5" width="6" height="2" fill="#fff" stroke="#000" stroke-width="1"/>
<path d="M724.0,532.2 h2 v-1.4 h3 v1.4 h2 v2.6 h-2 v1.3 h-3 v-1.3 h-2 z" fill="#000" shape-rendering="auto"/>
<rect x="724.5" y="538.5" width="6" height="2" fill="#fff" stroke="#000" stroke-width="1"/>
<path d="M733.2,532.2 h2 v-1.4 h3 v1.4 h2 v2.6 h-2 v1.3 h-3 v-1.3 h-2 z" fill="#000" shape-rendering="auto"/>
<rect x="733.5" y="538.5" width="6" height="2" fill="#fff" stroke="#000" stroke-width="1"/>
<path d="M742.4,532.2 h2 v-1.4 h3 v1.4 h2 v2.6 h-2 v1.3 h-3 v-1.3 h-2 z" fill="#000" shape-rendering="auto"/>
<rect x="742.5" y="538.5" width="6" height="2" fill="#fff" stroke="#000" stroke-width="1"/>
<rect x="645.5" y="542.5" width="6" height="6" fill="#fff" stroke="#000" stroke-width="1"/>
<rect x="655.5" y="542.5" width="6" height="6" fill="#fff" stroke="#000" stroke-width="1"/>
<rect x="664.5" y="542.5" width="6" height="6" fill="#fff" stroke="#000" stroke-width="1"/>
<rect x="673.5" y="542.5" width="6" height="6" fill="#fff" stroke="#000" stroke-width="1"/>
<rect x="682.5" y="542.5" width="6" height="6" fill="#fff" stroke="#000" stroke-width="1"/>
<rect x="692.5" y="542.5" width="6" height="6" fill="#fff" stroke="#000" stroke-width="1"/>
<rect x="701.5" y="542.5" width="6" height="6" fill="#fff" stroke="#000" stroke-width="1"/>
<rect x="710.5" y="542.5" width="6" height="6" fill="#fff" stroke="#000" stroke-width="1"/>
<rect x="719.5" y="542.5" width="6" height="6" fill="#fff" stroke="#000" stroke-width="1"/>
<rect x="729.5" y="542.5" width="6" height="6" fill="#fff" stroke="#000" stroke-width="1"/>
<rect x="740.5" y="542.5" width="6" height="6" fill="#fff" stroke="#000" stroke-width="1"/>
<path d="M640,543.5 h2 v1.5 h-1.5 v2 h1.5 v1.5 h-2" fill="none" stroke="#000" stroke-width="0.9" shape-rendering="auto"/>
<path d="M751.5,543.5 h-2 v1.5 h1.5 v2 h-1.5 v1.5 h2" fill="none" stroke="#000" stroke-width="0.9" shape-rendering="auto"/>
</svg></body></html>
